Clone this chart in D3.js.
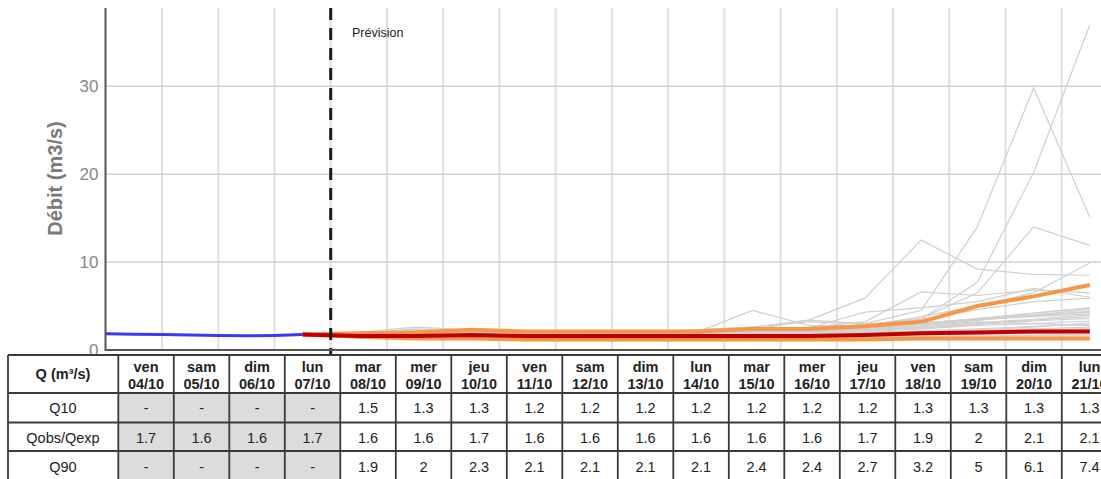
<!DOCTYPE html>
<html><head><meta charset="utf-8">
<script src="https://cdn.jsdelivr.net/npm/d3@7"></script>
<style>
body{margin:0;background:#fff;}
svg{display:block;font-family:"Liberation Sans",Arial,sans-serif;}
</style></head>
<body>
<svg id="c" width="1101" height="479"></svg>
<script>
// ---- data ----
const dayNames = ["ven","sam","dim","lun","mar","mer","jeu","ven","sam","dim","lun","mar","mer","jeu","ven","sam","dim","lun"];
const dayDates = ["04/10","05/10","06/10","07/10","08/10","09/10","10/10","11/10","12/10","13/10","14/10","15/10","16/10","17/10","18/10","19/10","20/10","21/10"];
const rowLabels = ["Q10","Qobs/Qexp","Q90"];
const q10Row  = ["-","-","-","-","1.5","1.3","1.3","1.2","1.2","1.2","1.2","1.2","1.2","1.2","1.3","1.3","1.3","1.3"];
const qobsRow = ["1.7","1.6","1.6","1.7","1.6","1.6","1.7","1.6","1.6","1.6","1.6","1.6","1.6","1.7","1.9","2","2.1","2.1"];
const q90Row  = ["-","-","-","-","1.9","2","2.3","2.1","2.1","2.1","2.1","2.4","2.4","2.7","3.2","5","6.1","7.4"];
const obsDays = 4;

// observed series (days since 04/10 00:00)
const obsT = [0, 0.5, 1, 1.5, 2, 2.5, 3, 3.5];
const obsV = [1.85, 1.8, 1.75, 1.7, 1.65, 1.62, 1.65, 1.75];

// forecast times (noon each day, starting 07/10 12:00)
const fcT = [3.5,4.5,5.5,6.5,7.5,8.5,9.5,10.5,11.5,12.5,13.5,14.5,15.5,16.5,17.5];
const q10V  = [1.75,1.5,1.3,1.3,1.2,1.2,1.2,1.2,1.2,1.2,1.2,1.3,1.3,1.3,1.3];
const qexpV = [1.75,1.6,1.6,1.7,1.6,1.6,1.6,1.6,1.6,1.6,1.7,1.9,2.0,2.1,2.1];
const q90V  = [1.75,1.9,2.0,2.3,2.1,2.1,2.1,2.1,2.4,2.4,2.7,3.2,5.0,6.1,7.4];

// ensemble members
const members = [
 [1.7,1.8,2.1,2.0,1.9,1.9,2.0,2.2,2.6,3.2,3.0,4.5,14.0,29.8,15.1],
 [1.7,1.7,1.9,1.8,1.8,1.7,1.8,1.9,2.1,2.4,2.8,3.5,7.7,20.2,37.0],
 [1.7,1.9,2.4,2.2,2.1,2.0,2.1,2.3,2.6,3.4,5.9,12.5,9.2,8.6,8.5],
 [1.7,1.8,2.0,1.9,1.8,1.8,1.9,2.0,2.2,2.5,2.9,3.6,6.5,14.0,11.9],
 [1.7,1.7,1.9,1.9,1.8,1.8,1.8,1.9,2.0,2.3,2.7,3.8,5.0,6.5,9.9],
 [1.7,1.6,1.5,1.4,1.4,1.3,1.3,1.3,1.3,1.3,1.4,1.4,1.4,1.4,1.4],
 [1.7,1.6,1.6,1.5,1.5,1.4,1.4,1.4,1.4,1.4,1.4,1.5,1.5,1.6,1.6],
 [1.7,1.7,1.7,1.6,1.6,1.5,1.5,1.5,1.5,1.5,1.6,1.7,1.8,1.9,2.0],
 [1.7,1.7,1.8,1.7,1.6,1.6,1.6,1.6,1.6,1.7,1.8,2.0,2.2,2.4,2.6],
 [1.7,1.8,1.9,1.8,1.7,1.7,1.7,1.7,1.8,1.9,2.1,2.4,2.8,3.0,3.3],
 [1.7,1.8,2.0,1.9,1.8,1.8,1.7,1.7,1.7,1.8,1.9,2.0,2.1,2.3,2.4],
 [1.7,1.6,1.6,1.6,1.5,1.5,1.5,1.6,1.6,1.7,1.7,1.8,1.9,2.0,2.2],
 [1.7,1.9,2.2,2.0,1.9,1.8,1.8,1.8,1.9,2.0,2.2,2.5,2.9,3.3,3.6],
 [1.7,1.7,1.8,1.8,1.7,1.7,1.7,1.8,1.9,2.0,2.3,2.6,3.1,3.5,4.0],
 [1.7,1.6,1.6,1.5,1.5,1.5,1.5,1.5,1.6,1.6,1.7,1.8,2.0,2.1,2.3],
 [1.7,1.8,2.0,2.0,1.9,1.9,1.9,2.0,2.1,2.2,2.4,2.8,3.4,3.9,4.4],
 [1.7,1.7,1.7,1.7,1.6,1.6,1.6,1.6,1.7,1.7,1.8,1.9,2.0,2.2,2.4],
 [1.7,1.9,2.3,2.1,2.0,2.0,2.0,2.1,2.2,2.4,2.6,3.0,3.6,4.2,4.8],
 [1.7,1.6,1.5,1.5,1.4,1.4,1.4,1.4,1.4,1.5,1.5,1.6,1.6,1.7,1.8],
 [1.7,1.8,1.9,1.8,1.8,1.7,1.7,1.8,1.8,1.9,2.0,2.2,2.4,2.7,2.9],
 [1.7,1.7,1.8,1.7,1.7,1.6,1.6,1.7,1.7,1.8,1.9,2.1,2.3,2.6,3.1],
 [1.7,2.0,2.6,2.3,2.1,2.0,2.0,2.1,2.3,2.5,2.7,3.1,3.5,3.8,4.1],
 [1.7,1.8,2.1,2.0,1.9,1.8,1.8,1.9,2.0,2.1,2.3,2.6,3.0,3.4,3.8],
 [1.7,1.7,1.7,1.6,1.6,1.6,1.6,1.6,1.6,1.7,1.7,1.8,1.9,2.0,2.1],
 [1.7,1.9,2.2,2.1,2.0,2.0,2.1,2.3,2.6,2.4,2.5,2.8,3.2,3.0,2.8],
 [1.7,1.8,2.0,1.9,1.9,1.9,1.9,2.0,4.5,2.8,2.7,3.0,3.4,3.9,4.3],
 [1.7,1.9,2.1,2.0,1.9,1.9,2.0,2.1,2.3,3.4,3.0,3.1,3.5,4.0,4.6],
 [1.7,1.8,1.9,1.9,1.8,1.8,1.9,2.0,2.2,2.6,3.2,6.6,6.2,6.8,6.5],
 [1.7,1.7,1.8,1.8,1.7,1.7,1.8,1.9,2.1,2.5,4.3,4.8,5.5,7.0,6.0],
 [1.7,1.8,2.0,1.9,1.8,1.8,1.8,1.9,2.1,2.4,2.9,3.5,4.6,5.5,5.9],
 [1.7,1.7,1.8,1.7,1.7,1.7,1.7,1.8,1.9,2.1,2.4,2.8,3.4,4.2,4.8]
];
const yTicks = [0,10,20,30];

// ---- layout ----
const W = 1101, H = 479;
const svg = d3.select("#c");
const x = d3.scaleLinear().domain([0, 17.5]).range([105.8, 105.8 + 17.5*56.23]);
const y = d3.scaleLinear().domain([0, 38.9]).range([350, 8]);
const pTop = 8, pBot = 350, pLeft = 105.5;

// vertical grid
svg.append("g").selectAll("line").data(d3.range(1, 19)).join("line")
  .attr("x1", d => x(d)).attr("x2", d => x(d)).attr("y1", pTop).attr("y2", pBot)
  .attr("stroke", "#e0e0e0").attr("stroke-width", 2);
// horizontal grid
svg.append("g").selectAll("line").data(yTicks.filter(d => d > 0)).join("line")
  .attr("x1", pLeft).attr("x2", W).attr("y1", d => y(d)).attr("y2", d => y(d))
  .attr("stroke", "#d2d2d2").attr("stroke-width", 1.5);

const line = d3.line().x(d => x(d[0])).y(d => y(d[1]));

// ensemble
svg.append("g").selectAll("path").data(members).join("path")
  .attr("d", m => line(fcT.map((t, i) => [t, m[i]])))
  .attr("fill", "none").attr("stroke", "#d0d0d0").attr("stroke-width", 1.2);

// quantiles
const orange = "#f79646";
svg.append("path").attr("d", line(fcT.map((t, i) => [t, q10V[i]])))
  .attr("fill", "none").attr("stroke", orange).attr("stroke-width", 4);
svg.append("path").attr("d", line(fcT.map((t, i) => [t, q90V[i]])))
  .attr("fill", "none").attr("stroke", orange).attr("stroke-width", 4);
svg.append("path").attr("d", line(fcT.map((t, i) => [t, qexpV[i]])))
  .attr("fill", "none").attr("stroke", "#c00000").attr("stroke-width", 4);
// observed
svg.append("path").attr("d", line(obsT.map((t, i) => [t, obsV[i]])))
  .attr("fill", "none").attr("stroke", "#3a3af5").attr("stroke-width", 3);

// forecast start dashed line
svg.append("line").attr("x1", x(4)).attr("x2", x(4)).attr("y1", pTop).attr("y2", 354)
  .attr("stroke", "#1a1a1a").attr("stroke-width", 3).attr("stroke-dasharray", "12,8");
svg.append("text").attr("x", 352).attr("y", 37).text("Prévision")
  .attr("font-size", 12.5).attr("fill", "#222");

// axes
const yAxis = svg.append("g").attr("transform", `translate(${pLeft},0)`)
  .call(d3.axisLeft(y).tickValues(yTicks).tickSize(0).tickPadding(7));
yAxis.select(".domain").remove();
yAxis.selectAll("text").attr("font-size", 17).attr("fill", "#878787")
  .attr("font-family", "Liberation Sans, Arial, sans-serif");
svg.append("line").attr("x1", pLeft).attr("x2", pLeft).attr("y1", pTop).attr("y2", pBot + 1)
  .attr("stroke", "#555").attr("stroke-width", 2);
svg.append("line").attr("x1", pLeft).attr("x2", W).attr("y1", pBot).attr("y2", pBot)
  .attr("stroke", "#555").attr("stroke-width", 2);

svg.append("text").attr("transform", "translate(62,178.5) rotate(-90)")
  .attr("text-anchor", "middle").attr("font-size", 20).attr("font-weight", "bold")
  .attr("fill", "#7a7a7a").text("Débit (m3/s)");

// ---- table ----
const tb = svg.append("g");
const colX = d3.scaleBand().domain(d3.range(dayNames.length)).range([118.3, 118.3 + 55.5*dayNames.length]);
const rowsY = [355, 393, 422.5, 451, 481];
const labelX0 = 8;
const bc = "#3a3a3a";
const fs = 14.5;

tb.append("rect").attr("x", labelX0).attr("y", rowsY[0]).attr("width", W).attr("height", H - rowsY[0]).attr("fill", "#fff");
[0,1,2].forEach(r => {
  tb.append("g").selectAll("rect").data(d3.range(obsDays)).join("rect")
    .attr("x", i => colX(i)).attr("y", rowsY[r+1]).attr("width", colX.bandwidth()).attr("height", rowsY[r+2] - rowsY[r+1])
    .attr("fill", "#dcdcdc");
});
tb.append("g").selectAll("line").data(rowsY.slice(0, 4)).join("line")
  .attr("x1", labelX0).attr("x2", W).attr("y1", d => d).attr("y2", d => d)
  .attr("stroke", bc).attr("stroke-width", 1.8);
const vxs = [labelX0].concat(d3.range(dayNames.length).map(i => colX(i)));
tb.append("g").selectAll("line").data(vxs).join("line")
  .attr("x1", d => d).attr("x2", d => d).attr("y1", rowsY[0]).attr("y2", H)
  .attr("stroke", bc).attr("stroke-width", 1.8);

tb.append("text").attr("x", 63).attr("y", 374).attr("dy", "0.35em").attr("text-anchor", "middle")
  .attr("font-size", fs).attr("font-weight", "bold").attr("fill", "#222").text("Q (m³/s)");
tb.append("g").selectAll("text").data(dayNames).join("text")
  .attr("x", (d, i) => colX(i) + colX.bandwidth()/2).attr("y", 366.5).attr("dy", "0.35em")
  .attr("text-anchor", "middle").attr("font-size", fs).attr("font-weight", "bold").attr("fill", "#222").text(d => d);
tb.append("g").selectAll("text").data(dayDates).join("text")
  .attr("x", (d, i) => colX(i) + colX.bandwidth()/2).attr("y", 383.5).attr("dy", "0.35em")
  .attr("text-anchor", "middle").attr("font-size", fs).attr("font-weight", "bold").attr("fill", "#222").text(d => d);

const rowsData = [q10Row, qobsRow, q90Row];
const rowCy = [407.5, 437.5, 467];
rowsData.forEach((row, r) => {
  const cy = rowCy[r];
  tb.append("text").attr("x", 63).attr("y", cy).attr("dy", "0.35em").attr("text-anchor", "middle")
    .attr("font-size", fs).attr("fill", "#222").text(rowLabels[r]);
  tb.append("g").selectAll("text").data(row).join("text")
    .attr("x", (d, i) => colX(i) + colX.bandwidth()/2).attr("y", cy).attr("dy", "0.35em")
    .attr("text-anchor", "middle").attr("font-size", fs).attr("fill", "#222").text(d => d);
});
</script>
</body></html>
